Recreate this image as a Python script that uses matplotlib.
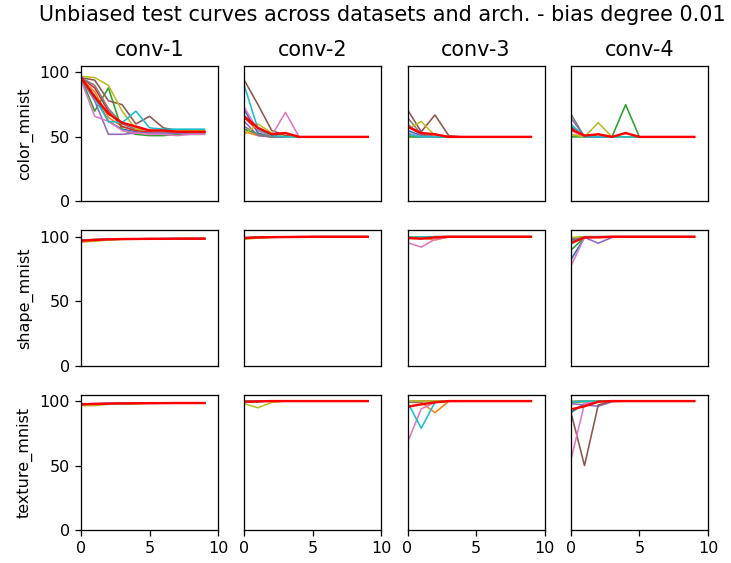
import matplotlib
matplotlib.use("Agg")
import matplotlib.pyplot as plt
import numpy as np

datasets = ["color_mnist", "shape_mnist", "texture_mnist"]
archs = ["conv-1", "conv-2", "conv-3", "conv-4"]
epochs = np.arange(10)

# 10 runs per panel (tab10 order), plus the red summary curve
color_conv1 = [
    [95, 82, 62, 56, 54, 53, 53, 53, 53, 53],
    [95, 85, 65, 58, 55, 54, 54, 54, 54, 54],
    [96, 70, 88, 55, 52, 51, 51, 52, 52, 52],
    [96, 88, 70, 58, 55, 54, 54, 54, 54, 54],
    [95, 78, 52, 52, 53, 53, 53, 53, 53, 53],
    [96, 94, 78, 75, 60, 66, 57, 55, 54, 54],
    [94, 66, 62, 55, 53, 52, 52, 51, 52, 52],
    [96, 90, 72, 60, 56, 55, 54, 54, 54, 54],
    [97, 96, 90, 70, 56, 55, 55, 55, 55, 55],
    [95, 80, 62, 61, 70, 57, 56, 56, 56, 56],
]
color_conv1_red = [96, 81, 68, 61, 58, 55, 55, 54, 54, 54]

color_conv2 = [
    [71, 53, 50, 50, 50, 50, 50, 50, 50, 50],
    [54, 51, 50, 50, 50, 50, 50, 50, 50, 50],
    [56, 52, 50, 50, 50, 50, 50, 50, 50, 50],
    [65, 55, 51, 50, 50, 50, 50, 50, 50, 50],
    [62, 51, 50, 50, 50, 50, 50, 50, 50, 50],
    [94, 75, 55, 51, 50, 50, 50, 50, 50, 50],
    [73, 55, 51, 69, 50, 50, 50, 50, 50, 50],
    [58, 52, 50, 50, 50, 50, 50, 50, 50, 50],
    [52, 60, 53, 50, 50, 50, 50, 50, 50, 50],
    [90, 56, 51, 50, 50, 50, 50, 50, 50, 50],
]
color_conv2_red = [66, 57, 52, 53, 50, 50, 50, 50, 50, 50]

color_conv3 = [
    [55, 51, 50, 50, 50, 50, 50, 50, 50, 50],
    [51, 50, 50, 50, 50, 50, 50, 50, 50, 50],
    [50, 50, 50, 50, 50, 50, 50, 50, 50, 50],
    [58, 52, 50, 50, 50, 50, 50, 50, 50, 50],
    [60, 51, 50, 50, 50, 50, 50, 50, 50, 50],
    [71, 54, 67, 51, 50, 50, 50, 50, 50, 50],
    [53, 50, 50, 50, 50, 50, 50, 50, 50, 50],
    [65, 52, 50, 50, 50, 50, 50, 50, 50, 50],
    [56, 62, 51, 50, 50, 50, 50, 50, 50, 50],
    [52, 50, 50, 50, 50, 50, 50, 50, 50, 50],
]
color_conv3_red = [58, 53, 52, 50, 50, 50, 50, 50, 50, 50]

color_conv4 = [
    [58, 50, 50, 50, 50, 50, 50, 50, 50, 50],
    [52, 50, 50, 50, 50, 50, 50, 50, 50, 50],
    [50, 50, 52, 50, 75, 50, 50, 50, 50, 50],
    [57, 51, 50, 50, 50, 50, 50, 50, 50, 50],
    [65, 50, 50, 50, 50, 50, 50, 50, 50, 50],
    [56, 50, 50, 50, 50, 50, 50, 50, 50, 50],
    [55, 50, 50, 50, 50, 50, 50, 50, 50, 50],
    [68, 50, 50, 50, 50, 50, 50, 50, 50, 50],
    [52, 50, 61, 50, 50, 50, 50, 50, 50, 50],
    [60, 50, 50, 50, 50, 50, 50, 50, 50, 50],
]
color_conv4_red = [56, 51, 52, 50, 53, 50, 50, 50, 50, 50]

shape_conv1 = [
    [97, 97.5, 98, 98.2, 98.3, 98.4, 98.4, 98.5, 98.5, 98.5],
    [96, 97, 97.8, 98.1, 98.2, 98.3, 98.4, 98.4, 98.4, 98.4],
    [97.2, 97.8, 98.1, 98.3, 98.4, 98.5, 98.5, 98.5, 98.6, 98.6],
    [97, 97.6, 98, 98.2, 98.3, 98.4, 98.4, 98.5, 98.5, 98.5],
    [97.3, 97.8, 98.1, 98.2, 98.3, 98.4, 98.5, 98.5, 98.5, 98.5],
    [97.1, 97.7, 98, 98.2, 98.3, 98.3, 98.4, 98.4, 98.5, 98.5],
    [97.4, 97.9, 98.2, 98.3, 98.4, 98.5, 98.5, 98.6, 98.6, 98.6],
    [97, 97.5, 97.9, 98.1, 98.3, 98.4, 98.4, 98.5, 98.5, 98.5],
    [96, 96.5, 97.5, 98, 98.2, 98.3, 98.4, 98.4, 98.5, 98.5],
    [97.2, 97.7, 98, 98.2, 98.3, 98.4, 98.5, 98.5, 98.5, 98.5],
]
shape_conv1_red = [97, 97.5, 98, 98.2, 98.3, 98.4, 98.4, 98.5, 98.5, 98.5]

shape_conv2 = [
    [99, 99.5, 99.7, 99.8, 99.9, 100, 100, 100, 100, 100],
    [98.8, 99.4, 99.7, 99.8, 99.9, 100, 100, 100, 100, 100],
    [99.2, 99.6, 99.8, 99.9, 100, 100, 100, 100, 100, 100],
    [99, 99.5, 99.7, 99.8, 99.9, 100, 100, 100, 100, 100],
    [99.1, 99.5, 99.7, 99.9, 99.9, 100, 100, 100, 100, 100],
    [99, 99.4, 99.6, 99.8, 99.9, 100, 100, 100, 100, 100],
    [99.3, 99.6, 99.8, 99.9, 100, 100, 100, 100, 100, 100],
    [99, 99.5, 99.7, 99.8, 99.9, 100, 100, 100, 100, 100],
    [98, 99, 99.5, 99.8, 99.9, 100, 100, 100, 100, 100],
    [99.2, 99.6, 99.8, 99.9, 100, 100, 100, 100, 100, 100],
]
shape_conv2_red = [99, 99.5, 99.7, 99.8, 99.9, 100, 100, 100, 100, 100]

shape_conv3 = [
    [99.5, 99.8, 100, 100, 100, 100, 100, 100, 100, 100],
    [99, 99, 97.5, 99.8, 100, 100, 100, 100, 100, 100],
    [99.6, 99.8, 100, 100, 100, 100, 100, 100, 100, 100],
    [99.3, 99.7, 100, 100, 100, 100, 100, 100, 100, 100],
    [99.5, 99.8, 100, 100, 100, 100, 100, 100, 100, 100],
    [99.4, 99.8, 100, 100, 100, 100, 100, 100, 100, 100],
    [95.5, 92, 98, 99.8, 100, 100, 100, 100, 100, 100],
    [99.5, 99.8, 100, 100, 100, 100, 100, 100, 100, 100],
    [99.7, 99.9, 100, 100, 100, 100, 100, 100, 100, 100],
    [99.5, 99.8, 100, 100, 100, 100, 100, 100, 100, 100],
]
shape_conv3_red = [99, 98.5, 99.5, 100, 100, 100, 100, 100, 100, 100]

shape_conv4 = [
    [82, 99.5, 100, 100, 100, 100, 100, 100, 100, 100],
    [99, 100, 100, 100, 100, 100, 100, 100, 100, 100],
    [89.5, 99.5, 100, 100, 100, 100, 100, 100, 100, 100],
    [97, 100, 100, 100, 100, 100, 100, 100, 100, 100],
    [99, 99.5, 95, 99.5, 100, 100, 100, 100, 100, 100],
    [98, 100, 100, 100, 100, 100, 100, 100, 100, 100],
    [77, 99.5, 100, 100, 100, 100, 100, 100, 100, 100],
    [98.5, 100, 100, 100, 100, 100, 100, 100, 100, 100],
    [99.5, 100, 100, 100, 100, 100, 100, 100, 100, 100],
    [96, 100, 100, 100, 100, 100, 100, 100, 100, 100],
]
shape_conv4_red = [95, 99.5, 99.5, 100, 100, 100, 100, 100, 100, 100]

texture_conv1 = [
    [97.5, 97.8, 98, 98.2, 98.3, 98.4, 98.4, 98.5, 98.5, 98.5],
    [97, 97.5, 97.9, 98.1, 98.2, 98.3, 98.4, 98.4, 98.4, 98.4],
    [97.6, 97.9, 98.1, 98.3, 98.4, 98.5, 98.5, 98.5, 98.6, 98.6],
    [97.4, 97.8, 98, 98.2, 98.3, 98.4, 98.4, 98.5, 98.5, 98.5],
    [97.7, 98, 98.1, 98.2, 98.3, 98.4, 98.5, 98.5, 98.5, 98.5],
    [97.5, 97.8, 98, 98.2, 98.3, 98.3, 98.4, 98.4, 98.5, 98.5],
    [97.8, 98, 98.2, 98.3, 98.4, 98.5, 98.5, 98.6, 98.6, 98.6],
    [97.4, 97.7, 97.9, 98.1, 98.3, 98.4, 98.4, 98.5, 98.5, 98.5],
    [96.5, 96.5, 97.5, 98, 98.2, 98.3, 98.4, 98.4, 98.5, 98.5],
    [97.6, 97.9, 98, 98.2, 98.3, 98.4, 98.5, 98.5, 98.5, 98.5],
]
texture_conv1_red = [97.5, 97.8, 98, 98.2, 98.3, 98.4, 98.4, 98.5, 98.5, 98.5]

texture_conv2 = [
    [99.5, 99.8, 100, 100, 100, 100, 100, 100, 100, 100],
    [99.3, 99.7, 100, 100, 100, 100, 100, 100, 100, 100],
    [99.6, 99.8, 100, 100, 100, 100, 100, 100, 100, 100],
    [99.5, 99.8, 100, 100, 100, 100, 100, 100, 100, 100],
    [99.4, 99.8, 100, 100, 100, 100, 100, 100, 100, 100],
    [99.5, 99.8, 100, 100, 100, 100, 100, 100, 100, 100],
    [99.6, 99.9, 100, 100, 100, 100, 100, 100, 100, 100],
    [99.5, 99.8, 100, 100, 100, 100, 100, 100, 100, 100],
    [98, 94.8, 99, 100, 100, 100, 100, 100, 100, 100],
    [99.8, 99.9, 100, 100, 100, 100, 100, 100, 100, 100],
]
texture_conv2_red = [99.5, 99.8, 100, 100, 100, 100, 100, 100, 100, 100]

texture_conv3 = [
    [99.5, 99.8, 100, 100, 100, 100, 100, 100, 100, 100],
    [99, 99, 91, 99.8, 100, 100, 100, 100, 100, 100],
    [99.6, 99.8, 100, 100, 100, 100, 100, 100, 100, 100],
    [99.5, 99.8, 100, 100, 100, 100, 100, 100, 100, 100],
    [99.4, 99.8, 100, 100, 100, 100, 100, 100, 100, 100],
    [99.5, 99.8, 100, 100, 100, 100, 100, 100, 100, 100],
    [68, 94, 99, 100, 100, 100, 100, 100, 100, 100],
    [99.5, 99.8, 100, 100, 100, 100, 100, 100, 100, 100],
    [100, 100, 100, 100, 100, 100, 100, 100, 100, 100],
    [99, 79, 99, 100, 100, 100, 100, 100, 100, 100],
]
texture_conv3_red = [95.6, 97.5, 99, 100, 100, 100, 100, 100, 100, 100]

texture_conv4 = [
    [91, 98, 100, 100, 100, 100, 100, 100, 100, 100],
    [99.5, 100, 100, 100, 100, 100, 100, 100, 100, 100],
    [99, 99.5, 100, 100, 100, 100, 100, 100, 100, 100],
    [99.5, 100, 100, 100, 100, 100, 100, 100, 100, 100],
    [98, 97, 96, 99.5, 100, 100, 100, 100, 100, 100],
    [91.7, 50, 97, 100, 100, 100, 100, 100, 100, 100],
    [54, 98, 100, 100, 100, 100, 100, 100, 100, 100],
    [99.5, 100, 100, 100, 100, 100, 100, 100, 100, 100],
    [99.5, 100, 100, 100, 100, 100, 100, 100, 100, 100],
    [99.5, 100, 100, 100, 100, 100, 100, 100, 100, 100],
]
texture_conv4_red = [93.5, 96, 99.5, 100, 100, 100, 100, 100, 100, 100]

runs = [
    [color_conv1, color_conv2, color_conv3, color_conv4],
    [shape_conv1, shape_conv2, shape_conv3, shape_conv4],
    [texture_conv1, texture_conv2, texture_conv3, texture_conv4],
]
reds = [
    [color_conv1_red, color_conv2_red, color_conv3_red, color_conv4_red],
    [shape_conv1_red, shape_conv2_red, shape_conv3_red, shape_conv4_red],
    [texture_conv1_red, texture_conv2_red, texture_conv3_red, texture_conv4_red],
]

dpi = 115
fig, axes = plt.subplots(3, 4, figsize=(731 / dpi, 563 / dpi), dpi=dpi,
                         sharex=True, sharey=True)
fig.subplots_adjust(left=0.1108, right=0.9685, top=0.8828, bottom=0.0586,
                    wspace=0.19, hspace=0.214)

for i in range(3):
    for j in range(4):
        ax = axes[i, j]
        for k, run in enumerate(runs[i][j]):
            ax.plot(epochs, run, color=f"C{k}", lw=1)
        ax.plot(epochs, reds[i][j], color="red", lw=1.5)
        ax.set_xlim(0, 10)
        ax.set_ylim(0, 105)
        ax.set_xticks([0, 5, 10])
        ax.set_yticks([0, 50, 100])
        if i == 0:
            ax.set_title(archs[j], fontsize=13)
        if j == 0:
            ax.set_ylabel(datasets[i])
        else:
            ax.tick_params(left=False)
        if i < 2:
            ax.tick_params(bottom=False)

fig.suptitle("Unbiased test curves across datasets and arch. - bias degree 0.01",
             x=0.5226, y=0.992, va="top", fontsize=13)

fig.savefig("out.png", dpi=dpi)
